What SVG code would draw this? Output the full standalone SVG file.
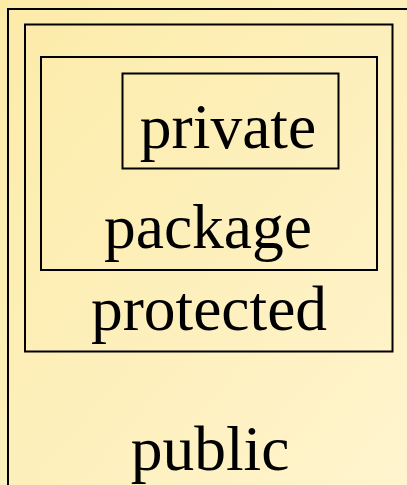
<svg xmlns="http://www.w3.org/2000/svg" width="407" height="485" viewBox="0 0 407 485">
<defs>
<linearGradient id="bg" x1="0" y1="0" x2="1" y2="1">
<stop offset="0" stop-color="#FCEBA8"/>
<stop offset="1" stop-color="#FFF4CE"/>
</linearGradient>
<style>
.box{fill:none;stroke:#000;stroke-width:2}
.lbl{font-family:"Liberation Serif","Times New Roman",serif;font-size:63.5px;fill:#000;text-anchor:middle}
</style>
</defs>
<rect x="0" y="0" width="407" height="485" fill="url(#bg)"/>
<g id="public">
<rect class="box" x="8" y="9" width="420" height="500"/>
<text class="lbl" x="210" y="470">public</text>
</g>
<g id="protected">
<rect class="box" x="25" y="24.5" width="367.5" height="327"/>
<text class="lbl" x="209" y="330">protected</text>
</g>
<g id="package">
<rect class="box" x="41" y="57" width="336" height="213"/>
<text class="lbl" x="208" y="248">package</text>
</g>
<g id="private">
<rect class="box" x="122.5" y="73.5" width="216" height="95"/>
<text class="lbl" x="228" y="148">private</text>
</g>
<g id="connectors"/>
</svg>
